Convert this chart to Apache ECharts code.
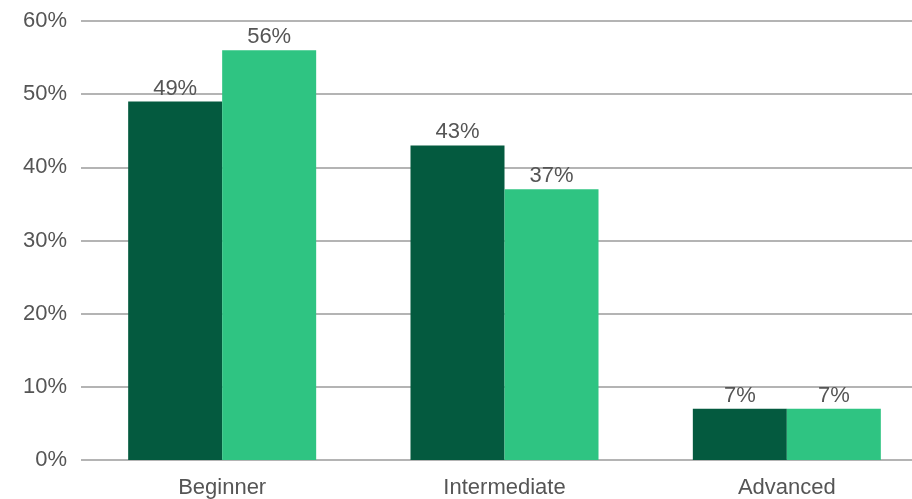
<!DOCTYPE html>
<html><head><meta charset="utf-8">
<script src="https://cdn.jsdelivr.net/npm/echarts@6/dist/echarts.min.js"></script>
<style>html,body{margin:0;padding:0;background:#fff}#c{width:912px;height:499px}</style>
</head><body><div id="c"></div>
<script>
const categories = ['Beginner', 'Intermediate', 'Advanced'];
const seriesA = [49, 43, 7];
const seriesB = [56, 37, 7];
const yTicks = [0, 10, 20, 30, 40, 50, 60];

const chart = echarts.init(document.getElementById('c'));
const font = '"Liberation Sans", Arial, sans-serif';
const lbl = {show: true, position: 'top', distance: 2, formatter: '{c}%', color: '#555', fontSize: 22, fontFamily: font};
chart.setOption({
  animation: false,
  grid: {left: 81, width: 847, top: 21, bottom: 39, outerBoundsMode: 'none', containLabel: false},
  xAxis: {
    type: 'category', data: categories,
    axisLine: {show: false}, axisTick: {show: false},
    axisLabel: {color: '#555', fontSize: 22, fontFamily: font, margin: 17}
  },
  yAxis: {
    type: 'value', min: yTicks[0], max: yTicks[yTicks.length - 1], interval: 10,
    axisLabel: {formatter: '{value}%', color: '#555', fontSize: 22, fontFamily: font, margin: 14, align: 'right'},
    splitLine: {lineStyle: {color: '#b4b4b4', width: 2}},
    axisLine: {show: false}, axisTick: {show: false}
  },
  series: [
    {type: 'bar', data: seriesA, barWidth: 94, barGap: '0%', itemStyle: {color: '#045a3f'}, label: lbl},
    {type: 'bar', data: seriesB, barWidth: 94, barGap: '0%', itemStyle: {color: '#2fc482'}, label: lbl}
  ]
});
</script></body></html>
